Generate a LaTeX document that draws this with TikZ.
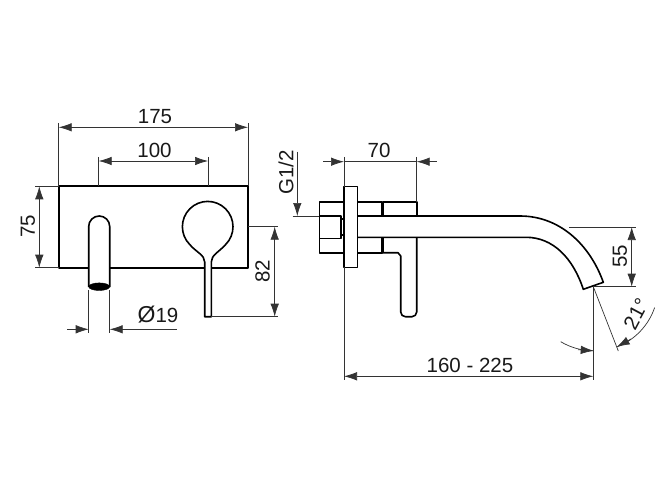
\documentclass[tikz,border=0pt]{standalone}
\usepackage{fontspec}
\setmainfont{Liberation Sans}
\usetikzlibrary{arrows.meta}
\tikzset{
  body/.style={line width=1.6pt, black, line join=round},
  extline/.style={line width=0.7pt, black!80},
  dimline/.style={line width=0.7pt, black!80, {Latex[length=13pt,width=8.5pt]}-{Latex[length=13pt,width=8.5pt]}},
  tipin/.style={line width=0.7pt, black!80, -{Latex[length=13pt,width=8.5pt]}},
  dimtext/.style={font=\fontsize{20.5}{24}\selectfont, inner sep=0pt, text=black!90}
}
\begin{document}
\begin{tikzpicture}[x=1pt, y=-1pt]
  \useasboundingbox (0,0) rectangle (667,500);

  % front view
  \draw[body, fill=white] (58.7,186.3) rectangle (248,267.7);
  \draw[body, fill=white] (88.7,287) -- (88.7,226.5) arc (180:360:10.5) -- (109.7,287);
  \draw[fill=black] (99.2,286.7) ellipse (10.5 and 3.8);
  \draw[body, fill=white] (204.7,316.7) -- (204.7,262)
    .. controls (204.7,255) and (196,252) .. (189.8,244.6)
    arc (135:405:25.3)
    .. controls (219,252) and (211.3,255) .. (211.3,262) -- (211.3,316.7) -- cycle;

  % front view dimensions
  \draw[extline] (58.7,123) -- (58.7,186.3);
  \draw[extline] (248,123) -- (248,186.3);
  \draw[dimline] (58.7,127.3) -- (248,127.3);
  \node[dimtext] (w175) at (155,116.5) {175};

  \draw[extline] (98.7,157) -- (98.7,186.3);
  \draw[extline] (208,157) -- (208,186.3);
  \draw[dimline] (98.7,161) -- (208,161);
  \node[dimtext] (w100) at (154.5,150.5) {100};

  \draw[extline] (35,186.3) -- (58.7,186.3);
  \draw[extline] (35,267.7) -- (58.7,267.7);
  \draw[dimline] (39.3,186.3) -- (39.3,267.7);
  \node[dimtext, rotate=90] (h75) at (28,226) {75};

  \draw[extline] (248,226.7) -- (278,226.7);
  \draw[extline] (211.3,316.7) -- (278,316.7);
  \draw[dimline] (274.7,226.7) -- (274.7,316.7);
  \node[dimtext, rotate=90] (h82) at (262.5,271) {82};

  \draw[extline] (88.7,290) -- (88.7,333);
  \draw[extline] (109.7,290) -- (109.7,333);
  \draw[tipin] (67,329.3) -- (88.7,329.3);
  \draw[tipin] (176.7,329.3) -- (109.7,329.3);
  \node[dimtext] (dia19) at (158,314.5) {{\fontsize{23}{24}\selectfont Ø}19};

  % side view
  \draw[body] (357.3,216) -- (520,216)
    .. controls (560,216) and (590,245) .. (603.3,282.3) -- (583.3,289.3)
    .. controls (573,258) and (553,237.3) .. (526,237.3) -- (357.3,237.3);
  \draw[body] (319.3,201.7) rectangle (344,252.7);
  \draw[body] (319.3,216) rectangle (340.7,238.3);
  \draw[body] (340.7,219) rectangle (344,235);
  \draw[body, fill=white] (344,186.7) rectangle (357.3,267.3);
  \draw[body] (357.3,201.7) -- (382.5,201.7) -- (382.5,216);
  \draw[body] (357.3,252.7) -- (382.5,252.7) -- (382.5,237.3);
  \draw[line width=2.4pt] (382.5,216.7) -- (382.5,201.7) (382.5,237) -- (382.5,252.7);
  \draw[body] (382.5,201.7) -- (416.7,201.7) -- (416.7,216);
  \draw[body] (416.7,237.3) -- (416.7,312) arc (0:90:4.7) -- (405.4,316.7) arc (90:180:4.7)
    -- (400.7,256) -- (398,252.7) -- (382.5,252.7);

  % side view dimensions
  \draw[extline] (344,157) -- (344,186.7);
  \draw[extline] (416.7,157) -- (416.7,201.7);
  \draw[tipin] (323.3,161.7) -- (344,161.7);
  \draw[tipin] (436.7,161.7) -- (416.7,161.7);
  \draw[extline] (344,161.7) -- (416.7,161.7);
  \node[dimtext] (w70) at (379,150.5) {70};

  \draw[tipin] (297.3,151.7) -- (297.3,216);
  \draw[extline] (292.7,216) -- (319.3,216);
  \node[dimtext, rotate=90] (thread) at (286,172.7) {G1/2};

  \draw[extline] (569,227) -- (635.7,227);
  \draw[extline] (593.3,286.7) -- (635.7,286.7);
  \draw[dimline] (631.7,227) -- (631.7,286.7);
  \node[dimtext, rotate=90] (h55) at (620,256) {55};

  \draw[extline] (344,267.3) -- (344,380);
  \draw[extline] (593.3,286.7) -- (593.3,380);
  \draw[dimline] (344,376.3) -- (593.3,376.3);
  \node[dimtext] (w160) at (470,365) {160 - 225};

  % spout angle
  \draw[extline] (593.3,286.7) -- (618.3,351);
  \draw[extline] (560.7,341.7) arc (120.8:90:64.5) coordinate (arcleft);
  \draw[tipin] (578,349.7) -- (arcleft);
  \draw[extline] (616.7,347) arc (69:18.8:64.5);
  \draw[tipin] (631,339) -- (616.7,347);
  \node[dimtext, rotate=62] (ang21) at (636,314) {21°};
\end{tikzpicture}
\end{document}
